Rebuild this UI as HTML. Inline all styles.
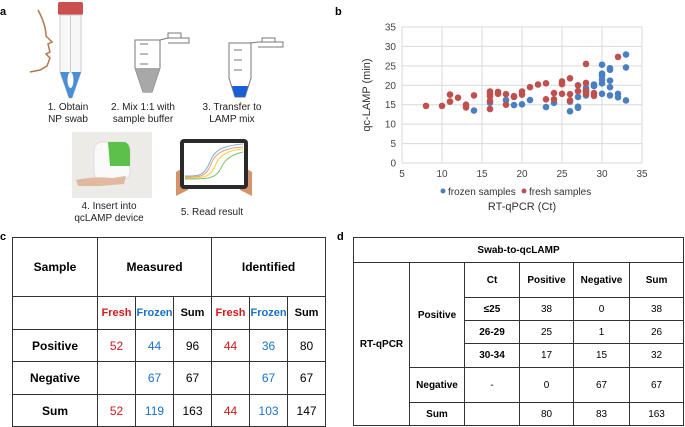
<!DOCTYPE html>
<html><head><meta charset="utf-8">
<style>
body{margin:0;width:685px;height:426px;background:#fff;position:relative;overflow:hidden;font-family:"Liberation Sans",sans-serif;}
.abs{position:absolute}
.pl{position:absolute;font-weight:bold;font-size:11px;}
.cap{position:absolute;font-size:10px;color:#222;text-align:center;line-height:12px;transform:translateX(-50%);white-space:nowrap}
table{border-collapse:collapse;position:absolute;table-layout:fixed}
td{border:1px solid #333;text-align:center;padding:0;font-size:12px}
.r{color:#d11a1a}.b{color:#1a72c9}
#td td{font-size:10px}
</style></head><body>
<div class="pl" style="left:0;top:6px">a</div>
<div class="pl" style="left:335px;top:6px">b</div>
<div class="pl" style="left:0;top:231px">c</div>
<div class="pl" style="left:337px;top:231px">d</div>

<svg class="abs" style="left:0;top:0" width="340" height="230">
 <path d="M38 10 Q46 25 46 36 L52 42 L48 44 L50 52 L46 54 L50 58 L47 66 L40 70 L30 72" fill="none" stroke="#b5754a" stroke-width="1.5"/>
 <g>
 <rect x="58" y="2" width="25" height="13" rx="2" fill="#c9504f"/>
 <path d="M60 15 H81 V72 L72 98 H69 L60 72 Z" fill="#f7f7f7" stroke="#ccc"/>
 <path d="M60 72 H81 L72 98 H69 Z" fill="#4a8fd6"/>
 <ellipse cx="70.5" cy="80" rx="3" ry="8" fill="#fff"/>
 <line x1="70.5" y1="15" x2="70.5" y2="72" stroke="#ccc"/>
 </g>
 <g>
 <path d="M135 40 H160 V68 L152 92 H143 L135 68 Z" fill="#fff" stroke="#777"/>
 <path d="M135 68 H160 L152 92 H143 Z" fill="#a8a8a8"/>
 <line x1="140" y1="44" x2="148" y2="44" stroke="#777"/><line x1="140" y1="54" x2="148" y2="54" stroke="#777"/><line x1="140" y1="64" x2="148" y2="64" stroke="#777"/>
 <path d="M160 40 L168 38 H189 V43 H168" fill="#fff" stroke="#777"/><rect x="168" y="33" width="13" height="5" fill="#fff" stroke="#777"/>
 </g>
 <g>
 <path d="M229 43 H251 V78 L245 97 H235 L229 78 Z" fill="#fff" stroke="#777"/>
 <path d="M232 86 H248 L245 97 H235 Z" fill="#1a5fd6"/>
 <line x1="234" y1="50" x2="242" y2="50" stroke="#777"/><line x1="234" y1="60" x2="242" y2="60" stroke="#777"/><line x1="234" y1="70" x2="242" y2="70" stroke="#777"/>
 <path d="M251 43 L258 42 H283 V47 H258" fill="#fff" stroke="#777"/><rect x="262" y="38" width="13" height="4" fill="#fff" stroke="#777"/>
 </g>
 <g>
 <rect x="72" y="132" width="80" height="66" fill="#ecebe8"/>
 <rect x="94" y="142" width="36" height="38" rx="8" fill="#fafafa" stroke="#ddd"/>
 <path d="M108 142 H125 Q130 144 130 152 V166 H110 Z" fill="#5cc04a"/>
 <path d="M76 180 Q95 176 112 178 L126 176 L124 184 L100 186 L78 186 Z" fill="#e0b9a0"/>
 </g>
 <g>
 <path d="M176 172 L186 166 L188 190 L176 196 Z" fill="#d6936b"/>
 <path d="M252 172 L242 166 L240 190 L252 196 Z" fill="#d6936b"/>
 <rect x="180" y="139" width="68" height="50" rx="4" fill="#2a2a2a"/>
 <rect x="184" y="143" width="60" height="42" fill="#fff"/>
 <path d="M185 176 C200 176 204 176 210 162 C214 150 222 146 243 144" fill="none" stroke="#7fb0e0"/>
 <path d="M185 177 C202 177 206 177 212 162 C216 152 226 148 243 147" fill="none" stroke="#f0a070"/>
 <path d="M185 178 C205 178 210 178 216 164 C220 154 230 150 243 149" fill="none" stroke="#f0d040"/>
 <path d="M185 179 C210 179 216 179 222 166 C226 158 234 154 243 152" fill="none" stroke="#80c070"/>
 </g>
</svg>
<div class="cap" style="left:68px;top:102px">1. Obtain<br>NP swab</div>
<div class="cap" style="left:143px;top:102px">2. Mix 1:1 with<br>sample buffer</div>
<div class="cap" style="left:232px;top:102px">3. Transfer to<br>LAMP mix</div>
<div class="cap" style="left:109px;top:201px">4. Insert into<br>qcLAMP device</div>
<div class="cap" style="left:212px;top:207px">5. Read result</div>

<svg id="chart" class="abs" style="left:0;top:0" width="685" height="230"></svg>
<script>
const xTicks=[5,10,15,20,25,30,35];
const yTicks=[0,5,10,15,20,25,30,35];
const frozenX=[14,16,18,19,20,21,23,24,26,26,27,27,27,28,28,28,29,29,30,30,30,30,30,30,31,31,31,31,31,32,32,33,33,33];
const frozenY=[13.5,15.5,16.2,14.9,15.1,16.2,14.4,15.5,13.3,15.8,17,14.5,14.2,19.3,18.5,17.4,20.2,19.8,25.3,23,22.5,21.5,20.5,17.8,24.4,24,21.2,19.5,17.4,17.8,16.9,27.9,24.6,16.1];
const freshX=[8,10,11,11,12,13,13,14,16,16,16,16,16,17,17,18,18,19,19,20,20,21,22,23,23,24,24,25,25,25,26,26,26,27,27,28,28,28,28,29,29,32];
const freshY=[14.7,14.7,17.6,15.8,16.8,15,14.3,17.4,18.4,17.8,17.2,16,13.9,18.3,17.8,17.7,15,17.2,17,18.4,17.6,19.5,20.2,20.5,16.4,18,16.4,21,20.3,17.8,21.8,17.7,16.1,20,18.5,25.5,20.6,18.5,17.8,18,17.3,27.3];
const NS='http://www.w3.org/2000/svg';
const svg=document.getElementById('chart');
const X0=402,X1=642,Y0=163,Y1=27;
const sx=v=>X0+(v-5)/30*(X1-X0);
const sy=v=>Y0-v/35*(Y0-Y1);
function mk(t,a){const e=document.createElementNS(NS,t);for(const k in a)e.setAttribute(k,a[k]);svg.appendChild(e);return e;}
xTicks.forEach(t=>{
 const l=mk('line',{x1:sx(t),x2:sx(t),y1:Y1,y2:Y0,stroke:'#d9d9d9'});
 
 
 const tx=mk('text',{x:sx(t),y:Y0+14,'text-anchor':'middle','font-size':'10',fill:'#444'});tx.textContent=t;
 
 
});
yTicks.forEach(t=>{
 const l=mk('line',{x1:X0,x2:X1,y1:sy(t),y2:sy(t),stroke:'#d9d9d9'});
 
 
 const tx=mk('text',{x:X0-6,y:sy(t)+3.5,'text-anchor':'end','font-size':'10',fill:'#444'});tx.textContent=t;
 
 
});
frozenX.forEach((v,i)=>{const c=mk('circle',{cx:sx(v),cy:sy(frozenY[i]),r:3.3,fill:'#4a7fc1'});
 
 });
freshX.forEach((v,i)=>{const c=mk('circle',{cx:sx(v),cy:sy(freshY[i]),r:3.3,fill:'#c0504d'});
 
 });
let yt=mk('text',{x:0,y:0,'text-anchor':'middle','font-size':'11',fill:'#333',transform:'translate(370,95) rotate(-90)'});yt.textContent='qc-LAMP (min)';


let xt=mk('text',{x:522,y:210,'text-anchor':'middle','font-size':'11',fill:'#333'});xt.textContent='RT-qPCR (Ct)';


let c1=mk('circle',{cx:443,cy:191,r:2.5,fill:'#4a7fc1'});


let l1=mk('text',{x:448,y:195,'font-size':'10',fill:'#333'});l1.textContent='frozen samples';


let c2=mk('circle',{cx:524,cy:191,r:2.5,fill:'#c0504d'});


let l2=mk('text',{x:529,y:195,'font-size':'10',fill:'#333'});l2.textContent='fresh samples';


</script>

<table style="left:12px;top:237px;width:313px;height:189px;font-weight:bold">
<colgroup><col style="width:85px"><col style="width:38px"><col style="width:38px"><col style="width:38px"><col style="width:38px"><col style="width:38px"><col style="width:38px"></colgroup>
<tr style="height:59px"><td>Sample</td><td colspan="3">Measured</td><td colspan="3">Identified</td></tr>
<tr style="height:33px"><td></td><td class="r" style="font-size:11px">Fresh</td><td class="b" style="font-size:11px">Frozen</td><td style="font-size:11px">Sum</td><td class="r" style="font-size:11px">Fresh</td><td class="b" style="font-size:11px">Frozen</td><td style="font-size:11px">Sum</td></tr>
<tr style="height:32px"><td>Positive</td><td class="r" style="font-weight:normal">52</td><td class="b" style="font-weight:normal">44</td><td style="font-weight:normal">96</td><td class="r" style="font-weight:normal">44</td><td class="b" style="font-weight:normal">36</td><td style="font-weight:normal">80</td></tr>
<tr style="height:33px"><td>Negative</td><td></td><td class="b" style="font-weight:normal">67</td><td style="font-weight:normal">67</td><td></td><td class="b" style="font-weight:normal">67</td><td style="font-weight:normal">67</td></tr>
<tr style="height:32px"><td>Sum</td><td class="r" style="font-weight:normal">52</td><td class="b" style="font-weight:normal">119</td><td style="font-weight:normal">163</td><td class="r" style="font-weight:normal">44</td><td class="b" style="font-weight:normal">103</td><td style="font-weight:normal">147</td></tr>
</table>

<table id="td" style="left:353px;top:237px;width:330px;height:188px">
<colgroup><col style="width:56px"><col style="width:55px"><col style="width:55px"><col style="width:54px"><col style="width:56px"><col style="width:54px"></colgroup>
<tr style="height:25px"><td colspan="6" style="font-weight:bold">Swab-to-qcLAMP</td></tr>
<tr style="height:35px"><td rowspan="6" style="font-weight:bold">RT-qPCR</td><td rowspan="4" style="font-weight:bold">Positive</td><td style="font-weight:bold">Ct</td><td style="font-weight:bold">Positive</td><td style="font-weight:bold">Negative</td><td style="font-weight:bold">Sum</td></tr>
<tr style="height:23px"><td style="font-weight:bold">≤25</td><td>38</td><td>0</td><td>38</td></tr>
<tr style="height:23px"><td style="font-weight:bold">26-29</td><td>25</td><td>1</td><td>26</td></tr>
<tr style="height:24px"><td style="font-weight:bold">30-34</td><td>17</td><td>15</td><td>32</td></tr>
<tr style="height:35px"><td style="font-weight:bold">Negative</td><td>-</td><td>0</td><td>67</td><td>67</td></tr>
<tr style="height:23px"><td style="font-weight:bold">Sum</td><td></td><td>80</td><td>83</td><td>163</td></tr>
</table>
</body></html>
